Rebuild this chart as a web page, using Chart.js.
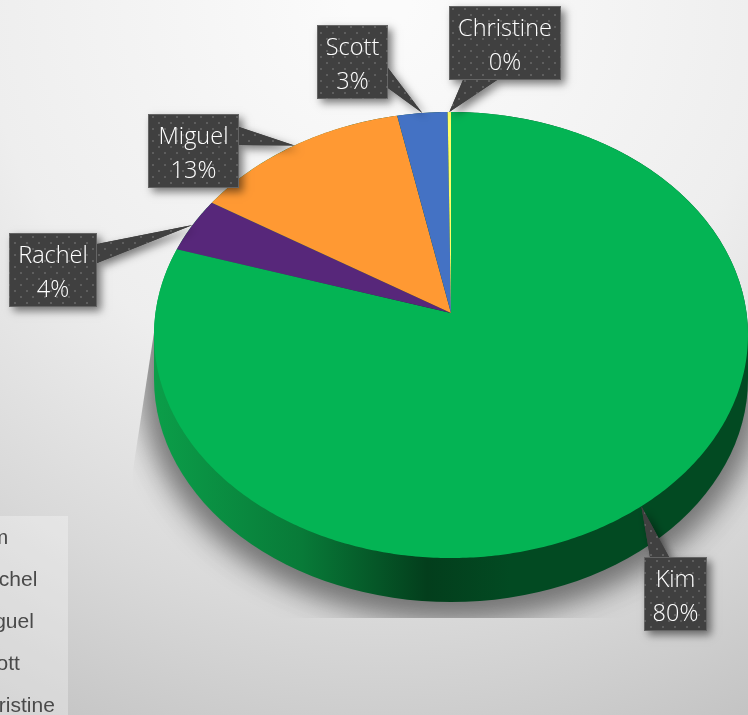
<!DOCTYPE html>
<html>
<head>
<meta charset="utf-8">
<title>Share by person</title>
<script src="https://cdn.jsdelivr.net/npm/chart.js@4/dist/chart.umd.min.js"></script>
<style>
  html, body { margin: 0; padding: 0; background: #ddd; overflow: hidden; }
  canvas { display: block; }
</style>
</head>
<body>
<canvas id="pie" width="748" height="715"></canvas>
<script>
// Slices run clockwise from twelve o'clock.
const categories = ['Kim', 'Rachel', 'Miguel', 'Scott', 'Christine'];
const shares = [79.8, 4, 13, 3, 0.2];
const sliceColors = ['#04B454', '#57277A', '#FF9933', '#4472C4', '#FFFF66'];

// Callout boxes [left, top, width, height] and the two points where the pointer meets the box.
const calloutBoxes = [
  [644, 557, 63, 74],
  [9, 233, 88, 74],
  [148, 114, 91, 74],
  [317, 25, 71, 74],
  [449, 6, 112, 74]
];
const pointerBases = [
  [[650, 557], [669, 557]],
  [[97, 244], [97, 263]],
  [[239, 127], [239, 145]],
  [[388, 68], [388, 88]],
  [[463, 80], [497, 80]]
];

const TILT_Y = 0.751;       // vertical squash of the disc
const PERSPECTIVE = 0.0987; // foreshortening of the far side
const THICKNESS = 44;

// Projects an angle and a radius fraction of the flat disc onto the tilted top face.
function projectDisc(arc, angle, fraction) {
  const t = angle + Math.PI / 2;
  const r = arc.outerRadius;
  const u = Math.sin(t) * fraction;
  const v = Math.cos(t) * fraction;
  const den = 1 + PERSPECTIVE * v;
  const ry = r * TILT_Y;
  return {
    x: arc.x + r * Math.sqrt(1 - PERSPECTIVE * PERSPECTIVE) * u / den,
    y: arc.y - (ry * v + PERSPECTIVE * ry) / den
  };
}

function silhouettePath(ctx, arc, dx) {
  const rx = arc.outerRadius, ry = rx * TILT_Y;
  ctx.beginPath();
  ctx.ellipse(arc.x + dx, arc.y, rx, ry, 0, Math.PI, 2 * Math.PI);
  ctx.ellipse(arc.x + dx, arc.y + THICKNESS, rx, ry, 0, 0, Math.PI);
  ctx.closePath();
}

function dotTile() {
  const tile = document.createElement('canvas');
  tile.width = tile.height = 12;
  const t = tile.getContext('2d');
  t.fillStyle = '#404040';
  t.fillRect(0, 0, 12, 12);
  t.fillStyle = '#5e5e5e';
  t.fillRect(2, 2, 2, 2);
  t.fillRect(8, 8, 2, 2);
  return tile;
}

function drawCallouts(chart) {
  const { ctx } = chart;
  const arcs = chart.getDatasetMeta(0).data;
  const dots = ctx.createPattern(dotTile(), 'repeat');

  arcs.forEach((arc, i) => {
    const [x, y, w, h] = calloutBoxes[i];
    const [a, b] = pointerBases[i];
    const tip = projectDisc(arc, (arc.startAngle + arc.endAngle) / 2, 1);
    const pointer = () => {
      ctx.beginPath();
      ctx.moveTo(a[0], a[1]);
      ctx.lineTo(tip.x, tip.y);
      ctx.lineTo(b[0], b[1]);
      ctx.closePath();
    };

    ctx.save();
    ctx.shadowColor = 'rgba(0,0,0,0.5)';
    ctx.shadowBlur = 8;
    ctx.shadowOffsetX = 4;
    ctx.shadowOffsetY = 4;
    ctx.fillStyle = '#404040';
    pointer();
    ctx.fill();
    ctx.fillRect(x, y, w, h);
    ctx.restore();

    ctx.fillStyle = dots;
    pointer();
    ctx.fill();
    ctx.fillRect(x, y, w, h);
    ctx.strokeStyle = 'rgba(130,130,130,0.55)';
    ctx.lineWidth = 1;
    ctx.strokeRect(x + 0.5, y + 0.5, w - 1, h - 1);

    ctx.fillStyle = '#ffffff';
    ctx.font = '300 23.5px "Open Sans"';
    ctx.textAlign = 'center';
    ctx.textBaseline = 'middle';
    const cx = x + w / 2;
    ctx.fillText(chart.data.labels[i], cx, y + 23);
    ctx.fillText(Math.round(chart.data.datasets[0].data[i]) + '%', cx, y + 57);
  });
}

function drawLegend(chart) {
  // The panel runs off the left edge of the canvas.
  const { ctx } = chart;
  ctx.save();
  ctx.fillStyle = 'rgba(255,255,255,0.3)';
  ctx.fillRect(0, 516, 68, 199);
  ctx.fillStyle = '#4a4a4a';
  ctx.font = '21px "Liberation Sans"';
  ctx.textAlign = 'left';
  ctx.textBaseline = 'alphabetic';
  chart.data.labels.forEach((label, i) => {
    ctx.fillText(label, -28, 544 + i * 42);
  });
  ctx.restore();
}

const tiltedPie = {
  id: 'tiltedPie',
  beforeDraw(chart) {
    const { ctx, width, height } = chart;
    const bg = ctx.createRadialGradient(380, 0, 30, 380, 0, 800);
    bg.addColorStop(0, '#fbfbfb');
    bg.addColorStop(0.475, '#eeeeee');
    bg.addColorStop(0.76, '#d9d9d9');
    bg.addColorStop(1, '#c4c4c4');
    ctx.fillStyle = bg;
    ctx.fillRect(0, 0, width, height);
  },
  // The library has laid the arcs out; they are painted here as a tilted disc.
  beforeDatasetsDraw(chart) {
    const { ctx } = chart;
    const arcs = chart.getDatasetMeta(0).data;
    const first = arcs[0];
    const rx = first.outerRadius;

    // Soft cast shadow, cut off by the plot region. Only the shadow reaches the canvas.
    ctx.save();
    ctx.beginPath();
    ctx.moveTo(159, 300);
    ctx.lineTo(133, 470);
    ctx.lineTo(133, 618);
    ctx.lineTo(748, 618);
    ctx.lineTo(748, 335);
    ctx.lineTo(700, 300);
    ctx.closePath();
    ctx.clip();
    ctx.shadowColor = 'rgba(0,0,0,0.42)';
    ctx.shadowBlur = 30;
    ctx.shadowOffsetX = 3000;
    ctx.shadowOffsetY = 5;
    ctx.fillStyle = '#000';
    ctx.strokeStyle = '#000';
    ctx.lineWidth = 24;
    silhouettePath(ctx, first, -3000);
    ctx.fill();
    ctx.stroke();
    ctx.restore();

    // Side wall of the disc.
    const wall = ctx.createLinearGradient(first.x - rx, 0, first.x + rx, 0);
    wall.addColorStop(0, '#0b9e49');
    wall.addColorStop(0.25, '#087a38');
    wall.addColorStop(0.46, '#033e1c');
    wall.addColorStop(0.6, '#024a22');
    wall.addColorStop(1, '#024a22');
    ctx.fillStyle = wall;
    silhouettePath(ctx, first, 0);
    ctx.fill();

    // Top face, slice by slice.
    arcs.forEach(arc => {
      const steps = Math.max(2, Math.ceil((arc.endAngle - arc.startAngle) * 90));
      ctx.beginPath();
      const apex = projectDisc(arc, 0, 0);
      ctx.moveTo(apex.x, apex.y);
      for (let i = 0; i <= steps; i++) {
        const a = arc.startAngle + (arc.endAngle - arc.startAngle) * i / steps;
        const p = projectDisc(arc, a, 1);
        ctx.lineTo(p.x, p.y);
      }
      ctx.closePath();
      ctx.fillStyle = arc.options.backgroundColor;
      ctx.fill();
    });
    return false;
  },
  afterDraw(chart) {
    drawCallouts(chart);
    drawLegend(chart);
  }
};

new Chart(document.getElementById('pie'), {
  type: 'pie',
  data: {
    labels: categories,
    datasets: [{ data: shares, backgroundColor: sliceColors, borderWidth: 0 }]
  },
  options: {
    responsive: false,
    animation: false,
    events: [],
    layout: { padding: { left: 154, right: 0, top: 38, bottom: 83 } },
    plugins: { legend: { display: false }, tooltip: { enabled: false }, title: { display: false } }
  },
  plugins: [tiltedPie]
});
</script>
</body>
</html>
